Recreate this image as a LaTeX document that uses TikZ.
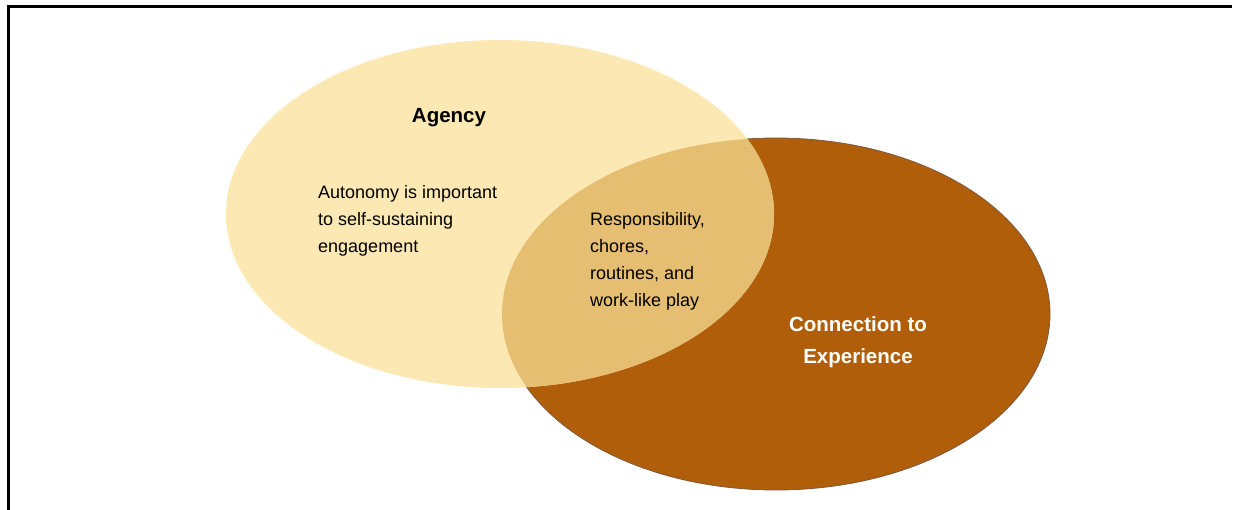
\documentclass[tikz,border=0pt]{standalone}
\usepackage{fontspec}
\setmainfont{Liberation Sans}
\definecolor{lightY}{HTML}{FCE8B3}
\definecolor{tanO}{HTML}{E6BE72}
\definecolor{brownC}{HTML}{B05E09}
\definecolor{rimC}{HTML}{7A5A40}
\begin{document}
\begin{tikzpicture}[x=1pt,y=-1pt,
  bodytext/.style={font=\fontsize{18}{27}\selectfont, text=black, align=left, inner sep=0pt, anchor=north west},
  headtext/.style={font=\fontsize{20.5}{32}\selectfont\bfseries, align=center, inner sep=0pt}]
\useasboundingbox (0,0) rectangle (1241,510);
\fill[white] (0,0) rectangle (1241,510);
% border
\draw[line width=3pt] (1232,6.5) -- (8,6.5) -- (8,510);
% circles
\path[fill=brownC, draw=rimC, line width=0.8pt] (776,314) ellipse [x radius=274, y radius=176];
\path[fill=lightY] (500,214) ellipse [x radius=274, y radius=174];
\begin{scope}
  \clip (776,314) ellipse [x radius=274, y radius=176];
  \fill[tanO] (500,214) ellipse [x radius=274, y radius=174];
\end{scope}
% texts
\node[headtext, text=black, anchor=base] (agency) at (449,123) {Agency};
\node[bodytext] (auto) at (318,185) {Autonomy is important\\to self-sustaining\\engagement};
\node[bodytext] (resp) at (590,212) {Responsibility,\\chores,\\routines, and\\work-like play};
\node[headtext, text=white, anchor=north] (conn) at (858,316) {Connection to\\Experience};
\end{tikzpicture}
\end{document}
